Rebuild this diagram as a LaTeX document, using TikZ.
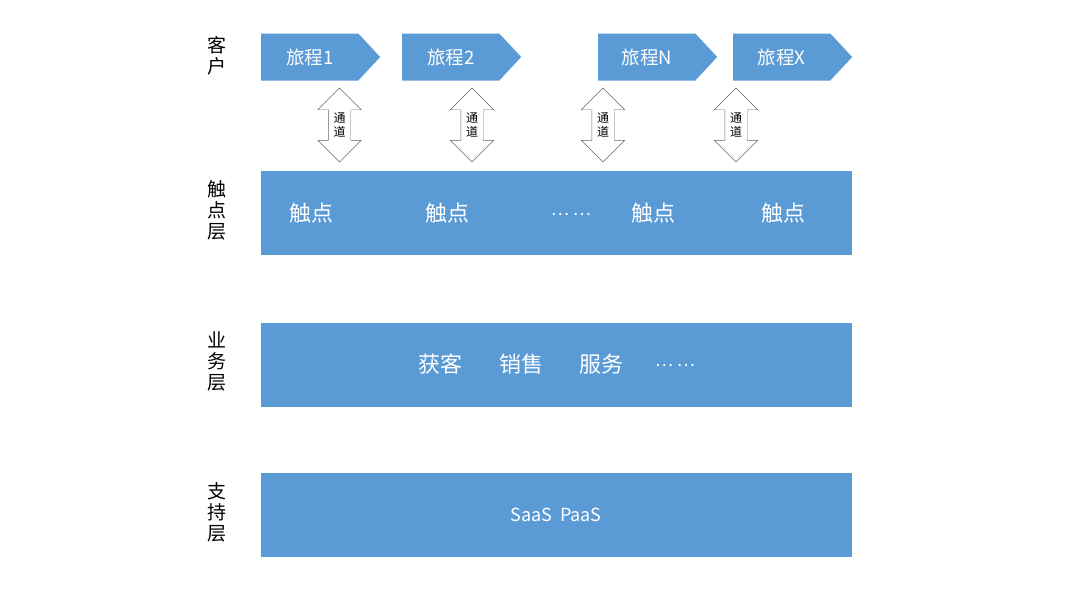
\documentclass[tikz,border=0pt]{standalone}
\usepackage{fontspec}
\setmainfont{Noto Sans CJK SC}
\usepackage{tikz}
\usetikzlibrary{positioning,shapes.symbols,shapes.arrows}
\definecolor{barblue}{HTML}{5B9BD5}

\begin{document}
\begin{tikzpicture}[x=1pt,y=-1pt,node distance=67pt]
  \tikzset{
    layer/.style={fill=barblue,minimum width=591pt,minimum height=84pt,inner sep=0pt},
    journey/.style={signal,signal to=east,signal pointer angle=94,fill=barblue,text=white,
      minimum width=119pt,minimum height=47pt,inner sep=0pt,font=\fontsize{18.5}{20}\selectfont},
    channel/.style={double arrow,shape border rotate=90,draw=black!60,fill=white,
      double arrow head extend=10.5pt,minimum height=74pt,text width=22pt,inner sep=0pt,
      align=center,font=\fontsize{12}{14}\selectfont},
    side/.style={align=center,font=\fontsize{19}{21}\selectfont},
    intext/.style={text=white,font=\fontsize{22}{24}\selectfont},
    dots/.style={text=white,font=\fontsize{17}{19}\selectfont}
  }
  \useasboundingbox (0,0) rectangle (1080,608);
  % layers
  \node[layer,anchor=north west] (touch) at (261,171) {};
  \node[layer,below=of touch] (biz) {};
  \node[layer,below=66pt of biz] (base) {};
  % side labels
  \node[side] (lcust) at (217,56) {客\\户};
  \node[side] (ltouch) at (217,210) {触\\点\\层};
  \node[side] (lbiz) at (217,361) {业\\务\\层};
  \node[side] (lbase) at (217,512) {支\\持\\层};
  % journeys
  \node[journey,anchor=west] (j1) at (261,57) {旅程1};
  \node[journey,anchor=west] (j2) at (402,57) {旅程2};
  \node[journey,anchor=west] (jn) at (598,57) {旅程N};
  \node[journey,anchor=west] (jx) at (733,57) {旅程X};
  % channels
  \node[channel] (c1) at (339.5,125) {通\\道};
  \node[channel] (c2) at (472,125) {通\\道};
  \node[channel] (c3) at (603,125) {通\\道};
  \node[channel] (c4) at (736,125) {通\\道};
  % touch points
  \node[intext] (t1) at (311,213) {触点};
  \node[intext] (t2) at (447,213) {触点};
  \node[dots] (tdots) at (571,215) {… …};
  \node[intext] (t3) at (653,213) {触点};
  \node[intext] (t4) at (783,213) {触点};
  % business
  \node[intext] (b1) at (440,364) {获客};
  \node[intext] (b2) at (521,364) {销售};
  \node[intext] (b3) at (601,364) {服务};
  \node[dots] (bdots) at (675,366) {… …};
  % support
  \node[text=white,font=\fontsize{18}{20}\selectfont] (s1) at (556,515) {SaaS\ \ PaaS};
\end{tikzpicture}
\end{document}
